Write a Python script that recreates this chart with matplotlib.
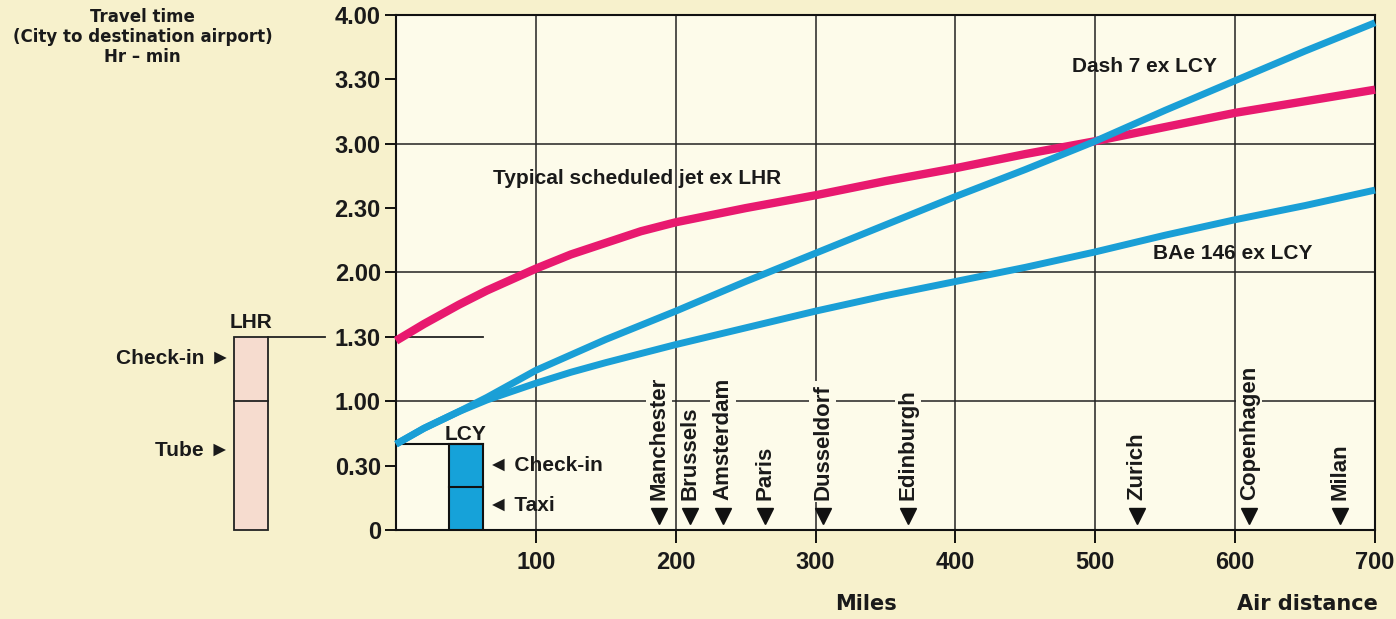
import matplotlib.pyplot as plt
from matplotlib.patches import Rectangle

# Дистанция (мили) и время в пути (часы)
miles = [0, 20, 45, 65, 100, 125, 150, 175, 200, 250, 300, 350, 400, 450, 500, 550, 600, 650, 700]
jet_lhr = [1.47, 1.60, 1.75, 1.86, 2.03, 2.14, 2.23, 2.32, 2.39, 2.50, 2.60, 2.71, 2.81, 2.92,
           3.02, 3.13, 3.24, 3.33, 3.42]
dash7_lcy = [0.667, 0.79, 0.92, 1.03, 1.24, 1.36, 1.48, 1.59, 1.70, 1.93, 2.15, 2.37, 2.59, 2.80,
             3.02, 3.26, 3.49, 3.72, 3.94]
bae146_lcy = [0.667, 0.79, 0.92, 1.01, 1.14, 1.225, 1.30, 1.37, 1.44, 1.57, 1.70, 1.82, 1.93, 2.04,
              2.16, 2.29, 2.41, 2.52, 2.64]

# Города и расстояния до них
cities = ['Manchester', 'Brussels', 'Amsterdam', 'Paris', 'Dusseldorf',
          'Edinburgh', 'Zurich', 'Copenhagen', 'Milan']
city_miles = [188, 210, 234, 264, 305, 366, 530, 610, 675]

# Оси
x_ticks = [100, 200, 300, 400, 500, 600, 700]
y_ticks = [0, 0.5, 1, 1.5, 2, 2.5, 3, 3.5, 4]
y_labels = ['0', '0.30', '1.00', '1.30', '2.00', '2.30', '3.00', '3.30', '4.00']
grid_x = [100, 200, 300, 400, 500, 600]
grid_y = [1, 2, 3]

# Время до аэропорта (часы): LHR и LCY
lhr_total, lhr_tube = 1.5, 1.0
lcy_total, lcy_taxi = 0.667, 0.333

PINK = '#e8196f'
BLUE = '#1a9fd6'
BG = '#f7f1cc'
PLOT_BG = '#fdfbea'
LIB = ['Liberation Sans', 'DejaVu Sans']
DJV = 'DejaVu Sans'

fig = plt.figure(figsize=(13.96, 6.19), dpi=100, facecolor=BG)
ax = fig.add_axes([0.2837, 0.1438, 0.7013, 0.832])
ax.set_facecolor(PLOT_BG)
ax.set_xlim(0, 700)
ax.set_ylim(0, 4)

for s in ax.spines.values():
    s.set_linewidth(1.5)
    s.set_color('#111111')

ax.set_xticks(x_ticks)
ax.set_xticklabels([str(v) for v in x_ticks])
ax.set_yticks(y_ticks)
ax.set_yticklabels(y_labels)
ax.tick_params(axis='y', direction='out', length=8, width=1.3, pad=3, labelsize=17)
ax.tick_params(axis='x', direction='out', length=9, width=1.3, pad=6, labelsize=17)
for lab in ax.get_xticklabels() + ax.get_yticklabels():
    lab.set_family(LIB)
    lab.set_fontweight('bold')
    lab.set_color('#1a1a1a')

# Сетка (не все линии)
for gx in grid_x:
    ax.axvline(gx, color='#222222', lw=1.1, zorder=1)
for gy in grid_y:
    ax.axhline(gy, color='#222222', lw=1.1, zorder=1)

# Кривые
ax.plot(miles, jet_lhr, color=PINK, lw=6, solid_capstyle='butt', solid_joinstyle='round',
        zorder=4, clip_on=False)
ax.plot(miles, dash7_lcy, color=BLUE, lw=5, solid_capstyle='butt', solid_joinstyle='round',
        zorder=4, clip_on=False)
ax.plot(miles, bae146_lcy, color=BLUE, lw=5, solid_capstyle='butt', solid_joinstyle='round',
        zorder=4, clip_on=False)

txt = dict(family=LIB, fontweight='bold', fontsize=15, color='#1a1a1a')
ax.text(172, 2.73, 'Typical scheduled jet ex LHR', ha='center', va='center', zorder=5, **txt)
ax.text(535, 3.60, 'Dash 7 ex LCY', ha='center', va='center', zorder=5, **txt)
ax.text(598, 2.15, 'BAe 146 ex LCY', ha='center', va='center', zorder=5, **txt)

# Города
city_txt = dict(txt, fontsize=16)
for name, m in zip(cities, city_miles):
    ax.text(m, 0.235, name, rotation=90, ha='center', va='bottom', zorder=2,
            bbox=dict(facecolor=PLOT_BG, edgecolor='none', pad=2), **city_txt)
    ax.plot(m, 0.11, marker='v', markersize=11, color='#111111', zorder=3)

# Столбик LHR (слева, вне осей)
lhr_x0, lhr_x1 = -115.8, -91.5
ax.add_patch(Rectangle((lhr_x0, 0), lhr_x1 - lhr_x0, lhr_total, facecolor='#f6dccf',
                       edgecolor='#222222', lw=1.3, clip_on=False, zorder=3))
ax.plot([lhr_x0, lhr_x1], [lhr_tube, lhr_tube], color='#222222', lw=1.3, clip_on=False, zorder=4)
ax.plot([lhr_x1, -51], [lhr_total, lhr_total], color='#222222', lw=1.3, clip_on=False, zorder=4)
ax.plot([0, 62], [lhr_total, lhr_total], color='#222222', lw=1.3, zorder=1)
ax.text((lhr_x0 + lhr_x1) / 2, 1.615, 'LHR', ha='center', va='center', clip_on=False, **txt)
ax.text(-118.5, 1.336, 'Check-in ►', ha='right', va='center', clip_on=False, **txt)
ax.text(-118.5, 0.62, 'Tube ►', ha='right', va='center', clip_on=False, **txt)

# Столбик LCY
lcy_x0, lcy_x1 = 38.0, 62.2
ax.add_patch(Rectangle((lcy_x0, 0), lcy_x1 - lcy_x0, lcy_total, facecolor='#16a2d9',
                       edgecolor='#111111', lw=1.5, zorder=3))
ax.plot([lcy_x0, lcy_x1], [lcy_taxi, lcy_taxi], color='#111111', lw=1.5, zorder=4)
ax.plot([0, lcy_x1], [lcy_total, lcy_total], color='#111111', lw=1.5, zorder=3)
ax.text(50, 0.745, 'LCY', ha='center', va='center', zorder=5, **txt)
ax.text(66, 0.50, '◄ Check-in', ha='left', va='center', zorder=5, **txt)
ax.text(66, 0.19, '◄ Taxi', ha='left', va='center', zorder=5, **txt)

# Подписи
fig.text(0.102, 0.987, 'Travel time\n(City to destination airport)\nHr – min',
         ha='center', va='top', family=DJV, fontweight='bold', fontsize=12,
         linespacing=1.15, color='#1a1a1a')
fig.text(0.620, 0.024, 'Miles', ha='center', va='center', family=DJV,
         fontweight='bold', fontsize=15, color='#1a1a1a')
fig.text(0.987, 0.024, 'Air distance', ha='right', va='center', family=DJV,
         fontweight='bold', fontsize=15, color='#1a1a1a')

fig.savefig('out.png', dpi=100, facecolor=BG)
